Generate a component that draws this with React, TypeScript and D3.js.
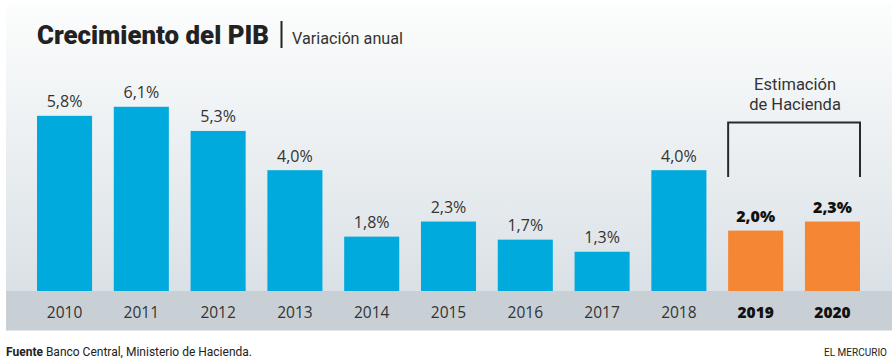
import React from "react";
import * as d3 from "d3";

const years = ["2010", "2011", "2012", "2013", "2014", "2015", "2016", "2017", "2018", "2019", "2020"];
const values = [5.8, 6.1, 5.3, 4.0, 1.8, 2.3, 1.7, 1.3, 4.0, 2.0, 2.3];
const estimated = ["2019", "2020"];
const title = "Crecimiento del PIB";
const subtitle = "Variación anual";
const bracketLines = ["Estimación", "de Hacienda"];
const sourceBold = "Fuente";
const sourceText = " Banco Central, Ministerio de Hacienda.";
const credit = "EL MERCURIO";

const W = 896;
const H = 360;
const BLUE = "#00aadd";
const ORANGE = "#f58634";
const FONT = "'Open Sans', sans-serif";

const fmt = (v: number) => v.toFixed(1).replace(".", ",") + "%";

export default function App() {
  const x = d3.scaleBand<string>().domain(years).range([37, 860]).paddingInner(0.283).paddingOuter(0);
  const y = d3.scaleLinear().domain([0, 7]).range([291, 79.6]);
  const bx0 = x("2019")!;
  const bx1 = x("2020")! + x.bandwidth();
  const bmid = (bx0 + bx1) / 2 + 1;

  return (
    <svg width={W} height={H} style={{ position: "absolute", left: 0, top: 0, background: "#fff" }}>
      <defs>
        <linearGradient id="bg" x1="0" y1="0" x2="0" y2="1">
          <stop offset="0" stopColor="#fcfdfd" />
          <stop offset="1" stopColor="#dae1e6" />
        </linearGradient>
      </defs>
      <rect x={6} y={4} width={886} height={287} fill="url(#bg)" />
      <rect x={6} y={291} width={886} height={39.5} fill="#c9d0d5" />

      <text x={37} y={43.5} fontFamily="Roboto, sans-serif" fontWeight={900} fontSize={25} fill="#222" textLength={232} lengthAdjust="spacingAndGlyphs">{title}</text>
      <line x1={281.5} x2={281.5} y1={21} y2={48} stroke="#222" strokeWidth={2} />
      <text x={292} y={43.5} fontFamily="Roboto, sans-serif" fontSize={17} fill="#333" textLength={111} lengthAdjust="spacingAndGlyphs">{subtitle}</text>

      {years.map((yr, i) => {
        const est = estimated.includes(yr);
        const cx = x(yr)! + x.bandwidth() / 2;
        return (
          <g key={yr}>
            <rect x={x(yr)} y={y(values[i])} width={x.bandwidth()} height={y(0) - y(values[i])} fill={est ? ORANGE : BLUE} />
            <text x={cx} y={y(values[i]) - 8.5} textAnchor="middle" fontFamily={FONT} fontSize={16} fontWeight={est ? 800 : 400} fill={est ? "#111" : "#333"}>{fmt(values[i])}</text>
            <text x={cx} y={317.5} textAnchor="middle" fontFamily={FONT} fontSize={15.5} fontWeight={est ? 800 : 400} fill={est ? "#111" : "#333"}>{yr}</text>
          </g>
        );
      })}

      <path d={`M${bx0},177V122.5H${bx1}V177`} fill="none" stroke="#2a2a2a" strokeWidth={2} />
      {bracketLines.map((t, i) => (
        <text key={t} x={bmid} y={90 + i * 20} textAnchor="middle" fontFamily="Roboto, sans-serif" fontSize={16.5} fill="#333">{t}</text>
      ))}

      <text x={6} y={356} fontFamily="Roboto, sans-serif" fontSize={13} fill="#222" textLength={246} lengthAdjust="spacingAndGlyphs">
        <tspan fontWeight={700}>{sourceBold}</tspan>
        <tspan>{sourceText}</tspan>
      </text>
      <text x={887} y={356} textAnchor="end" fontFamily="Roboto, sans-serif" fontSize={11} fill="#222" textLength={63} lengthAdjust="spacingAndGlyphs">{credit}</text>
    </svg>
  );
}
